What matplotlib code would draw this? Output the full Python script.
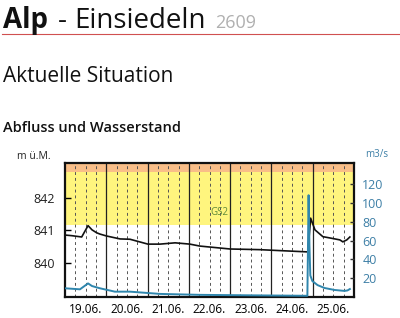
import matplotlib.pyplot as plt
import numpy as np

plt.rcParams['font.family'] = ['Open Sans', 'DejaVu Sans']

# Wasserstand (m ü.M.), Stunden ab 19.06. 00:00
lvl_hours = [0, 4, 9.7, 13.4, 15.7, 18.4, 20.3, 24.2, 32, 37.8, 48.2, 55.2, 64, 72.6,
             78.4, 95.9, 113, 125, 141.2, 142.8, 145.3, 149.9, 154, 159.8, 161.5, 163.8, 165.6]
lvl_values = [840.86, 840.84, 840.80, 841.15, 841.02, 840.93, 840.89, 840.83, 840.74, 840.73,
              840.58, 840.58, 840.62, 840.58, 840.52, 840.43, 840.41, 840.38, 840.34,
              841.38, 841.02, 840.81, 840.77, 840.71, 840.65, 840.71, 840.80]

# Abfluss (m3/s)
q_hours = [0, 8.7, 13.4, 15.7, 20.3, 29, 37.8, 55.2, 78.4, 107.5, 140.9, 141.6, 142.1,
           142.6, 143.8, 146.8, 150.9, 156.7, 162.5, 164.2, 165.6]
q_values = [9.3, 8.2, 14.5, 11.7, 9.3, 5.7, 5.7, 3.3, 2.3, 1.8, 1.3, 108.5, 55,
            23, 17, 12.7, 9.6, 7.5, 6.5, 7.0, 8.5]

days = ['19.06.', '20.06.', '21.06.', '22.06.', '23.06.', '24.06.', '25.06.']
lvl_ticks = [840, 841, 842]
q_ticks = [20, 40, 60, 80, 100, 120]
gs2_low, gs3_low = 841.17, 842.8

fig = plt.figure(figsize=(4, 3.18), dpi=100)
ax = fig.add_axes([0.1625, 0.066, 0.7225, 0.4214])
ax.set_xlim(0, 168)
ax.set_ylim(838.95, 843.08)

ax.axhspan(gs2_low, gs3_low, color='#fff57e', zorder=0, lw=0)
ax.axhspan(gs3_low, 845, color='#f9be88', zorder=0, lw=0)
ax.text(89.5, 841.54, 'GS2', color='#5f8a3a', fontsize=7, ha='center', va='center')

for h in range(6, 168, 6):
    if h % 24 == 0:
        ax.axvline(h, color='#222222', lw=0.9, zorder=1)
    else:
        ax.axvline(h, color='#555555', lw=0.7, ls=(0, (3, 3)), zorder=1)

ax.plot(lvl_hours, lvl_values, color='#111111', lw=1.2, zorder=3)

ax.set_xticks([12 + 24 * i for i in range(len(days))])
ax.set_xticklabels(days, fontsize=8.5)
ax.tick_params(axis='x', length=0, pad=4)
ax.set_yticks(lvl_ticks)
ax.set_yticklabels([str(v) for v in lvl_ticks], fontsize=9, color='#222222')
ax.tick_params(axis='y', direction='in', length=4, width=1, pad=7)
for s in ax.spines.values():
    s.set_linewidth(1.6)
    s.set_color('#111111')

ax2 = ax.twinx()
ax2.set_ylim(0, 142.8)
ax2.plot(q_hours, q_values, color='#2f86ad', lw=1.4, zorder=4)
ax2.set_yticks(q_ticks)
ax2.set_yticklabels([str(v) for v in q_ticks], fontsize=9, color='#3d7fa6')
ax2.tick_params(axis='y', direction='in', length=3, width=1, pad=6, color='#333333')
for s in ax2.spines.values():
    s.set_visible(False)

fig.text(17 / 400, 1 - 159 / 318, 'm ü.M.', fontsize=7.5, color='#222222')
fig.text(365 / 400, 1 - 157 / 318, 'm3/s', fontsize=7, color='#3d7fa6')

fig.text(3 / 400, 1 - 28 / 318, 'Alp', fontsize=20, fontweight='bold', color='#111111')
fig.text(58 / 400, 1 - 28 / 318, '-', fontsize=20, color='#111111')
fig.text(74 / 400, 1 - 28 / 318, 'Einsiedeln', fontsize=20, color='#111111')
fig.text(215 / 400, 1 - 28 / 318, '2609', fontsize=13, color='#b0b0b0')
fig.add_artist(plt.Line2D([2 / 400, 1], [1 - 34 / 318] * 2, color='#d05050', lw=0.8))

fig.text(3 / 400, 1 - 82 / 318, 'Aktuelle Situation', fontsize=15, color='#111111')
fig.text(3 / 400, 1 - 132 / 318, 'Abfluss und Wasserstand', fontsize=10.5,
         fontweight='semibold', color='#111111')

fig.savefig('out.png', dpi=100)
